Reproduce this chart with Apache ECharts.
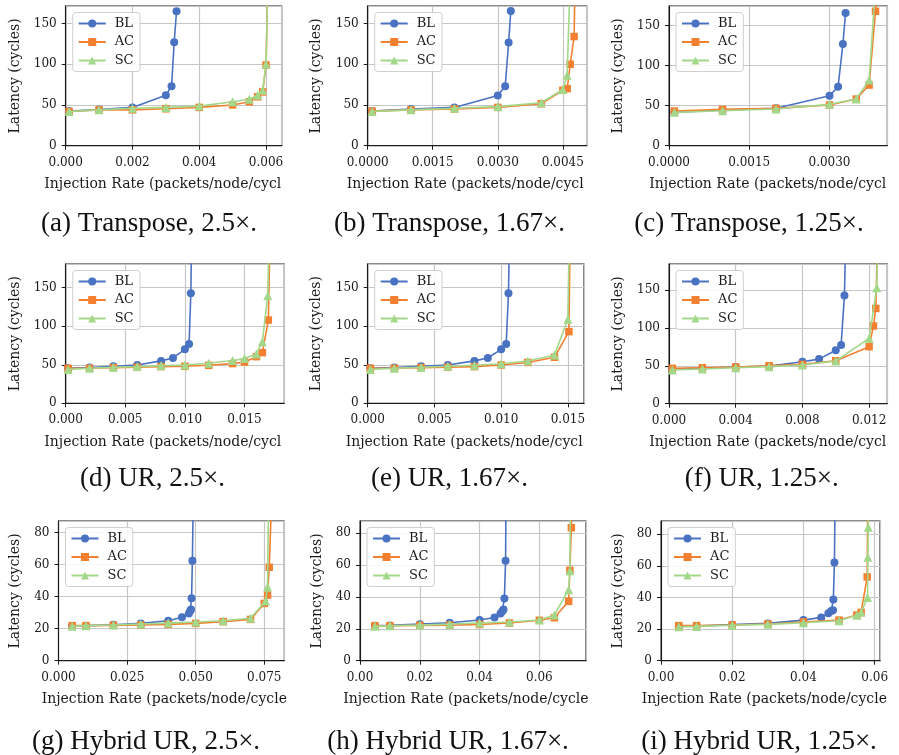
<!DOCTYPE html>
<html><head><meta charset="utf-8">
<script src="https://cdn.jsdelivr.net/npm/echarts@6/dist/echarts.min.js"></script>
<style>html,body{margin:0;padding:0;background:#fff}#c{width:899px;height:755px}</style>
</head><body><div id="c"></div>
<script>
// ---------- DATA ----------
const seriesNames = ['BL', 'AC', 'SC'];
const yTitle = 'Latency (cycles)';
const xTitle = 'Injection Rate (packets/node/cycle)';
const captions = [
  '(a) Transpose, 2.5×.', '(b) Transpose, 1.67×.', '(c) Transpose, 1.25×.',
  '(d) UR, 2.5×.', '(e) UR, 1.67×.', '(f) UR, 1.25×.',
  '(g) Hybrid UR, 2.5×.', '(h) Hybrid UR, 1.67×.', '(i) Hybrid UR, 1.25×.'
];

// (a) Transpose 2.5x
const transpose25_BL = [[0.0001,42.5],[0.001,44.5],[0.002,47],[0.003,62],[0.00317,73],[0.00325,127],[0.00332,165]];
const transpose25_AC = [[0.0001,42],[0.001,44],[0.002,44],[0.003,45.3],[0.004,47],[0.005,50],[0.0055,54],[0.00575,60],[0.0059,66],[0.006,99],[0.0061,280]];
const transpose25_SC = [[0.0001,42],[0.001,44],[0.002,46],[0.003,47],[0.004,48.6],[0.005,54],[0.0055,57],[0.00575,62],[0.0059,68],[0.006,100],[0.0061,280]];
// (b) Transpose 1.67x
const transpose167_BL = [[0.0001,42.5],[0.001,45],[0.002,47],[0.003,61.7],[0.00317,73],[0.00325,126.6],[0.0033,165.4]];
const transpose167_AC = [[0.0001,42.5],[0.001,44],[0.002,45],[0.003,47],[0.004,51.5],[0.0045,68],[0.0046,70],[0.00467,100],[0.00476,134],[0.0048,260]];
const transpose167_SC = [[0.0001,42],[0.001,44],[0.002,46],[0.003,48],[0.004,52.7],[0.0045,69],[0.0046,86.6],[0.0047,260]];
// (c) Transpose 1.25x
const transpose125_BL = [[0.0001,41.7],[0.001,44.6],[0.002,46.7],[0.003,62.5],[0.00316,73.7],[0.00325,127],[0.0033,166]];
const transpose125_AC = [[0.0001,43.3],[0.001,45.4],[0.002,46.7],[0.003,50.8],[0.0035,58.3],[0.00374,75.8],[0.00386,168],[0.0039,260]];
const transpose125_SC = [[0.0001,41.7],[0.001,43.75],[0.002,45.8],[0.003,51.7],[0.0035,58.3],[0.00374,82],[0.00386,200]];
// (d) UR 2.5x
const ur25_BL = [[0.0002,45.4],[0.002,46.3],[0.004,48],[0.006,49.7],[0.008,55],[0.009,58.8],[0.01,70],[0.01035,77],[0.0105,142.7],[0.0106,260]];
const ur25_AC = [[0.0002,45.4],[0.002,45.4],[0.004,46.3],[0.006,46.7],[0.008,47.6],[0.01,48],[0.012,49.3],[0.014,51.5],[0.015,53.5],[0.016,60.5],[0.0165,65.7],[0.017,108],[0.0172,260]];
const ur25_SC = [[0.0002,44],[0.002,45.4],[0.004,46.7],[0.006,47.6],[0.008,48.9],[0.01,49.7],[0.012,51.9],[0.014,55.5],[0.015,58],[0.016,64],[0.0165,80],[0.01695,139.6],[0.0172,300]];
// (e) UR 1.67x
const ur167_BL = [[0.0002,45.4],[0.002,46.3],[0.004,48],[0.006,49.7],[0.008,55],[0.009,58.8],[0.01,70],[0.01038,77],[0.01055,142.7],[0.0107,300]];
const ur167_AC = [[0.0002,45.4],[0.002,45.4],[0.004,46.3],[0.006,46.7],[0.008,47.6],[0.01,49.7],[0.012,53],[0.014,59.7],[0.01508,93],[0.0152,260]];
const ur167_SC = [[0.0002,44],[0.002,45.4],[0.004,46.7],[0.006,48],[0.008,49.3],[0.01,51.4],[0.012,54.9],[0.014,62.7],[0.015,109],[0.0152,300]];
// (f) UR 1.25x
const ur125_BL = [[0.0002,45.9],[0.002,46.8],[0.004,48.5],[0.006,49.8],[0.008,55.6],[0.009,59],[0.01,70.6],[0.01032,77.6],[0.01052,143],[0.0107,330]];
const ur125_AC = [[0.0002,46.8],[0.002,47.6],[0.004,48.5],[0.006,50.3],[0.008,52],[0.01,56.9],[0.012,75.4],[0.01226,102.8],[0.0124,126],[0.0126,300]];
const ur125_SC = [[0.0002,44.5],[0.002,45.9],[0.004,47.6],[0.006,49],[0.008,51.2],[0.01,56.5],[0.012,86.5],[0.01246,153.5],[0.0126,300]];
// (g) Hybrid UR 2.5x
const hybrid25_BL = [[0.005,21.7],[0.01,21.9],[0.02,22.5],[0.03,23.3],[0.04,25],[0.045,27.1],[0.0475,29.5],[0.048,31],[0.0483,32],[0.0485,39],[0.0488,62.5],[0.0495,150]];
const hybrid25_AC = [[0.005,21.9],[0.01,21.9],[0.02,22.1],[0.03,22.3],[0.04,22.7],[0.05,23.3],[0.06,24.4],[0.07,25.8],[0.075,35.8],[0.0762,41],[0.0768,58.4],[0.0785,140]];
const hybrid25_SC = [[0.005,21.5],[0.01,21.9],[0.02,22.3],[0.03,22.9],[0.04,23.5],[0.05,24.2],[0.06,25],[0.07,26.5],[0.0755,37.3],[0.0762,46],[0.0768,140]];
// (h) Hybrid UR 1.67x
const hybrid167_BL = [[0.005,21.9],[0.01,22.1],[0.02,22.9],[0.03,23.8],[0.04,25.5],[0.045,27.1],[0.047,29.6],[0.0476,31],[0.048,32],[0.0483,39],[0.0487,62.6],[0.049,150]];
const hybrid167_AC = [[0.005,21.9],[0.01,21.9],[0.02,22.1],[0.03,22.3],[0.04,22.7],[0.05,23.6],[0.06,25.3],[0.065,26.9],[0.0698,37.2],[0.0702,56.6],[0.0707,83.3],[0.0712,150]];
const hybrid167_SC = [[0.005,21.5],[0.01,21.9],[0.02,22.3],[0.03,22.9],[0.04,23.6],[0.05,24.2],[0.06,25.5],[0.065,28.6],[0.0698,44.5],[0.0702,56.4],[0.0706,150]];
// (i) Hybrid UR 1.25x
const hybrid125_BL = [[0.005,21.7],[0.01,21.9],[0.02,22.8],[0.03,23.6],[0.04,25.7],[0.045,27.4],[0.047,30],[0.0478,31.4],[0.0483,32],[0.0484,38.8],[0.0487,62.2],[0.0491,150]];
const hybrid125_AC = [[0.005,22.2],[0.01,22.2],[0.02,22.6],[0.03,23.2],[0.04,24.5],[0.05,25.7],[0.055,28.9],[0.0562,30.6],[0.0579,53],[0.0582,150]];
const hybrid125_SC = [[0.005,21.5],[0.01,21.7],[0.02,22.4],[0.03,23],[0.04,24],[0.05,25.3],[0.055,28.7],[0.0562,30.6],[0.058,40],[0.0581,65.4],[0.0582,84.4],[0.0583,150]];

// ---------- LAYOUT / STYLE ----------
const colors = ['#4a72c2', '#f28030', '#a3d88a'];
const symbols = ['circle', 'rect', 'triangle'];
const symbolSizes = [8, 7.5, 9];
const panels = [
  {data:[transpose25_BL,transpose25_AC,transpose25_SC], g:{left:65.7,top:6,width:216,height:139.7}, xMax:0.00647, xInt:0.002, xDec:3, yMax:171.5, yInt:50, yTX:14, xT:[44.3,184,244], cap:[149,224]},
  {data:[transpose167_BL,transpose167_AC,transpose167_SC], g:{left:367.7,top:6,width:219,height:139.7}, xMax:0.00505, xInt:0.0015, xDec:4, yMax:171.5, yInt:50, yTX:315.5, xT:[346.7,184,245], cap:[449.5,224]},
  {data:[transpose125_BL,transpose125_AC,transpose125_SC], g:{left:669,top:6,width:218.3,height:139.7}, xMax:0.00408, xInt:0.0015, xDec:4, yMax:174.6, yInt:50, yTX:617, xT:[649.3,184,245], cap:[749,224]},
  {data:[ur25_BL,ur25_AC,ur25_SC], g:{left:65.7,top:264,width:218.6,height:139.3}, xMax:0.01834, xInt:0.005, xDec:3, yMax:180.7, yInt:50, yTX:14, xT:[44.3,442.7,245], cap:[152.5,479]},
  {data:[ur167_BL,ur167_AC,ur167_SC], g:{left:367.7,top:264,width:216.3,height:139.3}, xMax:0.01621, xInt:0.005, xDec:3, yMax:180.7, yInt:50, yTX:315, xT:[345.7,442.7,245], cap:[449.5,479]},
  {data:[ur125_BL,ur125_AC,ur125_SC], g:{left:669,top:264,width:218.3,height:139.7}, xMax:0.01309, xInt:0.004, xDec:3, yMax:184.8, yInt:50, yTX:617, xT:[649.3,442.7,245], cap:[761.7,479]},
  {data:[hybrid25_BL,hybrid25_AC,hybrid25_SC], g:{left:58.5,top:521,width:225.8,height:139.7}, xMax:0.0823, xInt:0.025, xDec:3, yMax:87.3, yInt:20, yTX:14, xT:[41.7,699,247], cap:[146,742]},
  {data:[hybrid167_BL,hybrid167_AC,hybrid167_SC], g:{left:360,top:521,width:226,height:139.7}, xMax:0.0756, xInt:0.02, xDec:2, yMax:87.5, yInt:20, yTX:316, xT:[343.3,699,247], cap:[448,742]},
  {data:[hybrid125_BL,hybrid125_AC,hybrid125_SC], g:{left:661,top:521,width:219,height:139.7}, xMax:0.0615, xInt:0.02, xDec:2, yMax:88.4, yInt:20, yTX:617, xT:[641.7,699,246], cap:[759,742]}
];

const tickFont = 'DejaVu Serif';
const option = {animation:false, backgroundColor:'#fff', grid:[], xAxis:[], yAxis:[], series:[], legend:[], graphic:[]};

panels.forEach((p, i) => {
  option.grid.push({left:p.g.left, top:p.g.top, width:p.g.width, height:p.g.height, show:true, borderColor:'#1a1a1a', borderWidth:1.1, backgroundColor:'transparent', containLabel:false});
  option.xAxis.push({
    type:'value', gridIndex:i, min:0, max:p.xMax, interval:p.xInt,
    axisLine:{show:true, onZero:false, lineStyle:{color:'#1a1a1a', width:1.1}},
    axisTick:{show:true, length:4, lineStyle:{color:'#1a1a1a', width:1}},
    axisLabel:{interval:0, showMaxLabel:false, margin:11, fontFamily:tickFont, fontSize:12, color:'#1a1a1a', formatter:v => v.toFixed(p.xDec)},
    splitLine:{show:true, lineStyle:{color:'#c6c6c6', width:1.2}}
  });
  option.yAxis.push({
    type:'value', gridIndex:i, min:0, max:p.yMax, interval:p.yInt,
    name:yTitle, nameLocation:'middle', nameRotate:90, nameGap:p.g.left - p.yTX - 8,
    nameTextStyle:{fontFamily:tickFont, fontSize:14, color:'#1a1a1a'},
    axisLine:{show:true, lineStyle:{color:'#1a1a1a', width:1.1}},
    axisTick:{show:true, length:4, lineStyle:{color:'#1a1a1a', width:1}},
    axisLabel:{showMaxLabel:false, margin:9, fontFamily:tickFont, fontSize:12, color:'#1a1a1a'},
    splitLine:{show:true, lineStyle:{color:'#c6c6c6', width:1.2}}
  });
  seriesNames.forEach((n, k) => {
    option.series.push({
      type:'line', name:n, xAxisIndex:i, yAxisIndex:i, data:p.data[k],
      symbol:symbols[k], symbolSize:symbolSizes[k], showSymbol:true, clip:true,
      itemStyle:{color:colors[k]}, lineStyle:{color:colors[k], width:1.6}, z:2+k
    });
  });
  option.legend.push({
    orient:'vertical', left:p.g.left + 7, top:p.g.top + 6.5, data:seriesNames, selectedMode:false,
    itemWidth:27, itemHeight:10, itemGap:4.5, padding:[4,6,4,5],
    backgroundColor:'rgba(255,255,255,0.85)', borderColor:'#cfcfcf', borderWidth:1, borderRadius:3,
    textStyle:{fontFamily:tickFont, fontSize:13, color:'#1a1a1a', lineHeight:14, padding:[0,0,0,4]}
  });
  option.graphic.push({type:'text', x:p.xT[0], y:p.xT[1], silent:true, style:{text:xTitle, font:'14px "DejaVu Serif"', fill:'#1a1a1a', align:'left', verticalAlign:'middle', textAlign:'left', textVerticalAlign:'middle', width:p.xT[2], overflow:'truncate', ellipsis:''}});
  option.graphic.push({type:'text', x:p.cap[0], y:p.cap[1], silent:true, style:{text:captions[i], font:'27px "Liberation Serif"', fill:'#111', align:'center', verticalAlign:'middle', textAlign:'center', textVerticalAlign:'middle'}});
});

const chart = echarts.init(document.getElementById('c'), null, {renderer:'canvas'});
chart.setOption(option);
</script>
</body></html>
